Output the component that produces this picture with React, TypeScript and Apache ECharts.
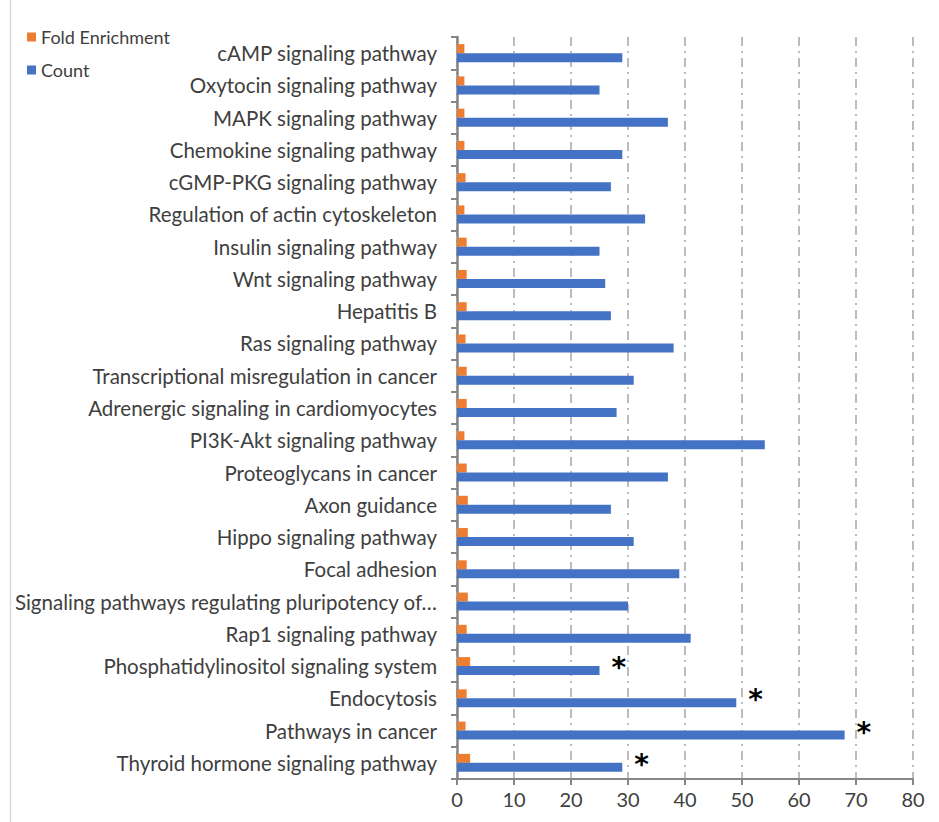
import React, { useEffect, useRef } from "react";
import * as echarts from "echarts";

// Categories listed bottom-to-top (ECharts category y axis starts at the bottom)
const categories = [
  "Thyroid hormone signaling pathway",
  "Pathways in cancer",
  "Endocytosis",
  "Phosphatidylinositol signaling system",
  "Rap1 signaling pathway",
  "Signaling pathways regulating pluripotency of…",
  "Focal adhesion",
  "Hippo signaling pathway",
  "Axon guidance",
  "Proteoglycans in cancer",
  "PI3K-Akt signaling pathway",
  "Adrenergic signaling in cardiomyocytes",
  "Transcriptional misregulation in cancer",
  "Ras signaling pathway",
  "Hepatitis B",
  "Wnt signaling pathway",
  "Insulin signaling pathway",
  "Regulation of actin cytoskeleton",
  "cGMP-PKG signaling pathway",
  "Chemokine signaling pathway",
  "MAPK signaling pathway",
  "Oxytocin signaling pathway",
  "cAMP signaling pathway",
];

const countValues = [29, 68, 49, 25, 41, 30, 39, 31, 27, 37, 54, 28, 31, 38, 27, 26, 25, 33, 27, 29, 37, 25, 29];
const foldEnrichment = [2.3, 1.5, 1.7, 2.3, 1.7, 1.9, 1.7, 1.9, 1.9, 1.7, 1.3, 1.7, 1.7, 1.5, 1.7, 1.7, 1.7, 1.3, 1.5, 1.3, 1.3, 1.3, 1.3];
const significant = [true, true, true, true, false, false, false, false, false, false, false, false, false, false, false, false, false, false, false, false, false, false, false];

const xTicks = [0, 10, 20, 30, 40, 50, 60, 70, 80];

const FONT = "Lato";
const TEXT = "#404040";
const AXIS = "#868686";

export default function App() {
  const ref = useRef<HTMLDivElement>(null);
  useEffect(() => {
    document.body.style.margin = "0";
    const chart = echarts.init(ref.current!, null, { renderer: "svg" });
    chart.setOption({
      animation: false,
      backgroundColor: "#ffffff",
      textStyle: { fontFamily: FONT },
      graphic: [
        {
          type: "line",
          shape: { x1: 10.5, y1: 0, x2: 10.5, y2: 822 },
          style: { stroke: "#d9d9d9", lineWidth: 1.5 },
        },
      ],
      legend: {
        orient: "vertical",
        left: 22,
        top: 23,
        itemWidth: 9,
        itemHeight: 9,
        itemGap: 15,
        icon: "rect",
        data: ["Fold Enrichment", "Count"],
        textStyle: { fontFamily: FONT, fontSize: 18, color: TEXT },
      },
      grid: { left: 457, right: 26, top: 37, bottom: 43 },
      xAxis: {
        type: "value",
        min: xTicks[0],
        max: xTicks[xTicks.length - 1],
        interval: 10,
        axisLine: { show: true, lineStyle: { color: AXIS, width: 2 } },
        axisTick: { show: true, length: 6, lineStyle: { color: AXIS, width: 2 } },
        axisLabel: { fontFamily: FONT, fontSize: 20, color: TEXT, margin: 10 },
        splitLine: {
          show: true,
          lineStyle: { color: "#a6a6a6", width: 1.5, type: [9, 5, 2, 5] },
        },
      },
      yAxis: {
        type: "category",
        data: categories,
        axisLine: { show: true, lineStyle: { color: AXIS, width: 2.5 } },
        axisTick: { show: true, length: 6, lineStyle: { color: AXIS, width: 2 } },
        axisLabel: { fontFamily: FONT, fontSize: 20.5, color: TEXT, margin: 20 },
      },
      series: [
        {
          name: "Fold Enrichment",
          type: "bar",
          data: foldEnrichment,
          barWidth: 9,
          barGap: "0%",
          itemStyle: { color: "#ED7D31" },
        },
        {
          name: "Count",
          type: "bar",
          data: countValues.map((v, i) => ({
            value: v,
            label: {
              show: significant[i],
              formatter: "*",
              position: "right",
              distance: 12,
              fontSize: 28,
              fontWeight: "bold",
              color: "#000",
              fontFamily: "DejaVu Sans",
              offset: [0, -3],
            },
          })),
          barWidth: 9,
          barGap: "0%",
          itemStyle: { color: "#4472C4" },
        },
      ],
    });
    return () => chart.dispose();
  }, []);
  return <div ref={ref} style={{ width: 939, height: 822 }} />;
}
